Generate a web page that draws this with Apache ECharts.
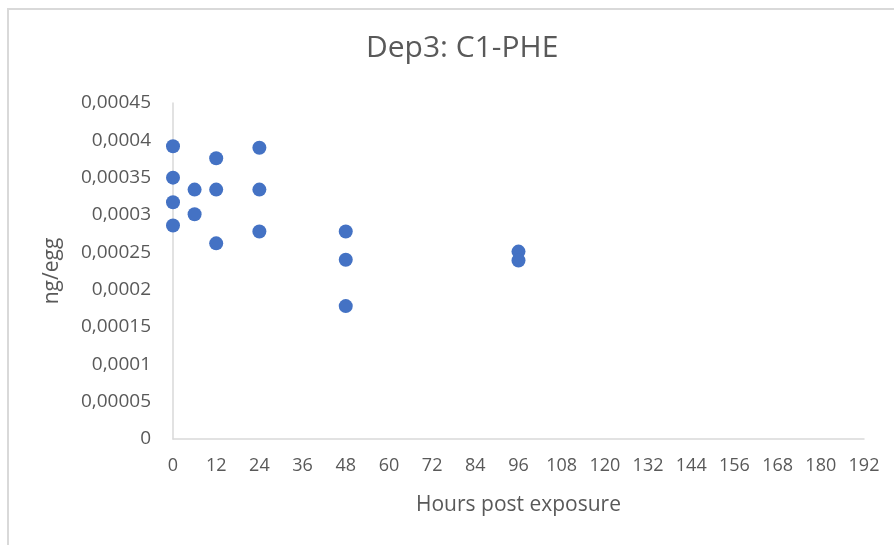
<!DOCTYPE html>
<html>
<head>
<meta charset="utf-8">
<script src="https://cdn.jsdelivr.net/npm/echarts@6/dist/echarts.min.js"></script>
<style>
  html, body { margin: 0; padding: 0; background: #fff; }
  #frame { position: absolute; left: 7px; top: 8px; width: 900px; height: 560px; border-left: 2px solid #d9d9d9; border-top: 2px solid #d9d9d9; }
  #main { position: absolute; left: 0; top: 0; width: 894px; height: 545px; }
</style>
</head>
<body>
<div id="frame"></div>
<div id="main"></div>
<script>
// hours post exposure and measured ng/egg
const hours = [0, 0, 0, 0, 6, 6, 12, 12, 12, 24, 24, 24, 48, 48, 48, 96, 96]
const ngPerEgg = [
  0.000392, 0.000350, 0.000317, 0.000286,
  0.000334, 0.000301,
  0.000376, 0.000334, 0.000262,
  0.000390, 0.000334, 0.000278,
  0.000278, 0.000240, 0.000178,
  0.000251, 0.000239
]
const xTicks = { min: 0, max: 192, step: 12 }
const yTicks = { min: 0, max: 0.00045, step: 0.00005 }

const points = hours.map((h, i) => [h, ngPerEgg[i]])
const font = 'Open Sans'
const grey = '#595959'

const myChart = echarts.init(document.getElementById('main'))
var option = {
  backgroundColor: 'transparent',
  animation: false,
  title: {
    text: 'Dep3: C1-PHE',
    left: 361,
    top: 28,
    textStyle: { fontFamily: font, fontSize: 30, fontWeight: 'normal', color: grey },
  },
  grid: { left: 173, right: 30, top: 103, bottom: 106 },
  xAxis: {
    type: 'value',
    min: xTicks.min,
    max: xTicks.max,
    interval: xTicks.step,
    name: 'Hours post exposure',
    nameLocation: 'middle',
    nameGap: 56,
    nameTextStyle: { fontFamily: font, fontSize: 21, color: grey },
    axisLine: { lineStyle: { color: '#d9d9d9', width: 1.5 } },
    axisTick: { show: false },
    splitLine: { show: false },
    axisLabel: { fontFamily: font, fontSize: 18, color: grey, margin: 18 },
  },
  yAxis: {
    type: 'value',
    min: yTicks.min,
    max: yTicks.max,
    interval: yTicks.step,
    name: 'ng/egg',
    nameLocation: 'middle',
    nameGap: 110,
    nameTextStyle: { fontFamily: font, fontSize: 21, color: grey },
    axisLine: { show: true, lineStyle: { color: '#d9d9d9', width: 1.5 } },
    axisTick: { show: false },
    splitLine: { show: false },
    axisLabel: {
      fontFamily: font, fontSize: 19, color: grey, margin: 22,
      formatter: (v) => String(Number(v.toFixed(5))).replace('.', ','),
    },
  },
  series: [
    {
      type: 'scatter',
      symbol: 'circle',
      symbolSize: 14,
      itemStyle: { color: '#4472c4', opacity: 1 },
      data: points,
    },
  ],
}
option && myChart.setOption(option)
</script>
</body>
</html>
